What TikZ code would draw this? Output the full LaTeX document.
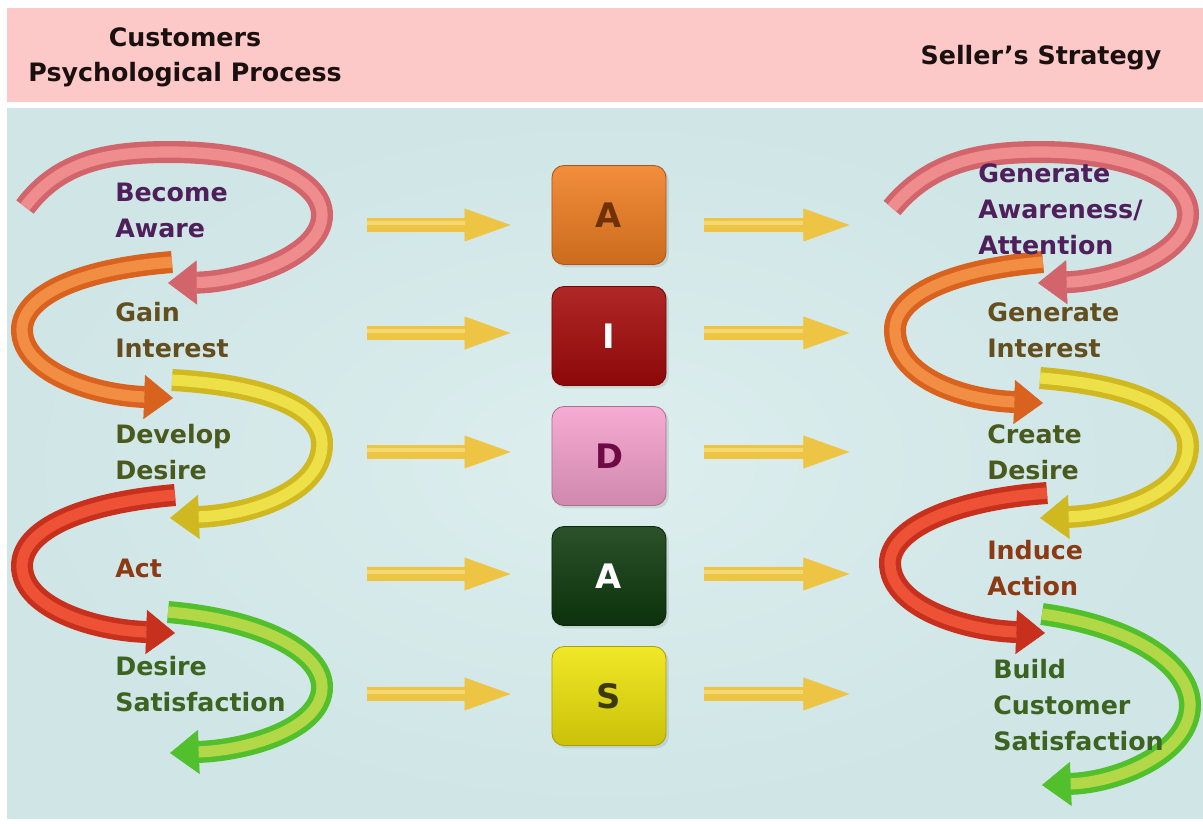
\documentclass[tikz,border=0pt]{standalone}
\usepackage{fontspec}
\setmainfont{DejaVu Sans}
\usetikzlibrary{arrows.meta,positioning,calc,shadows}

\definecolor{headpink}{HTML}{FCC8C8}
\definecolor{panel}{HTML}{CFE5E6}
\definecolor{panellight}{HTML}{DDEEEE}
\definecolor{pinkedge}{HTML}{D2646C}
\definecolor{pinkcore}{HTML}{EE8C8E}
\definecolor{orangeedge}{HTML}{D8621E}
\definecolor{orangecore}{HTML}{F18E44}
\definecolor{yellowedge}{HTML}{CFB820}
\definecolor{yellowcore}{HTML}{EEE048}
\definecolor{rededge}{HTML}{C8301E}
\definecolor{redcore}{HTML}{EE5236}
\definecolor{greenedge}{HTML}{52C02C}
\definecolor{greencore}{HTML}{B2D848}
\definecolor{gold}{HTML}{EEC444}
\definecolor{goldlight}{HTML}{F6D872}
\definecolor{txpurple}{HTML}{4E1F5A}
\definecolor{txbrown}{HTML}{644E1E}
\definecolor{txolive}{HTML}{4A5A1E}
\definecolor{txrust}{HTML}{8C3A14}
\definecolor{txgreen}{HTML}{3C6420}
\definecolor{txhead}{HTML}{1A1010}
\definecolor{boxA}{HTML}{F07E22}
\definecolor{boxI}{HTML}{A50A0A}
\definecolor{boxD}{HTML}{F5A0CC}
\definecolor{boxAc}{HTML}{0E3A0E}
\definecolor{boxS}{HTML}{EEE40A}
\definecolor{letterA}{HTML}{6E3206}
\definecolor{letterD}{HTML}{6E0A46}
\definecolor{letterS}{HTML}{3C3A0A}

% curved band: edge colour underneath, lighter core on top
\newcommand\swirl[3]{%
  \draw[swirl edge, #2] #1;
  \draw[swirl core, #3] #1;
}

\begin{document}
\begin{tikzpicture}[x=0.025cm, y=-0.025cm,
    lbl/.style={anchor=west, align=left, inner sep=0pt,
      font=\fontsize{18}{25.6}\selectfont\bfseries},
    headlbl/.style={align=center, inner sep=0pt, text=txhead,
      font=\fontsize{18}{25}\selectfont\bfseries},
    letterbox/.style={rounded corners=0.3cm, minimum width=2.85cm,
      minimum height=2.475cm, line width=0.6pt,
      font=\fontsize{24}{28}\selectfont\bfseries,
      draw=#1!70!black, top color=#1!88!white, bottom color=#1!85!black,
      drop shadow={opacity=0.2, shadow xshift=2pt, shadow yshift=-2pt}},
    swirl edge/.style={line width=0.55cm,
      -{Triangle[width=1.1cm, length=0.72cm, line width=0.4pt]}},
    swirl core/.style={line width=0.28cm, shorten >=0.72cm},
    flatarrow/.style={line width=0.36cm, gold,
      -{Triangle[width=0.82cm, length=1.15cm, line width=0.4pt]}},
    flatshine/.style={line width=0.12cm, goldlight, shorten >=1.15cm}]

    \useasboundingbox (0,0) rectangle (1203,823);
    \fill[white] (0,0) rectangle (1203,823);

    % Header band and panel
    \fill[headpink] (7,8) rectangle (1203,102);
    \shade[inner color=panellight, outer color=panel] (7,108) rectangle (1203,818);

    \node[headlbl] (cust) at (185,57) {Customers\\Psychological Process};
    \node[headlbl] (seller) at (1041,58) {Seller's Strategy};

    % Left swirl chain
    \swirl{(168,612) .. controls (262,620) and (322,652) .. (322,687) .. controls (322,728) and (250,750) .. (170,753)}{greenedge}{greencore}
    \swirl{(175,495) .. controls (80,503) and (22,530) .. (22,566) .. controls (22,606) and (90,630) .. (175,633)}{rededge}{redcore}
    \swirl{(172,380) .. controls (262,385) and (322,407) .. (322,444) .. controls (322,492) and (250,515) .. (170,518)}{yellowedge}{yellowcore}
    \swirl{(172,262) .. controls (72,270) and (22,298) .. (22,330) .. controls (22,370) and (90,395) .. (173,398)}{orangeedge}{orangecore}
    \swirl{(25,207) .. controls (60,160) and (110,152) .. (170,152) .. controls (262,152) and (322,180) .. (322,215) .. controls (322,257) and (240,282) .. (168,283)}{pinkedge}{pinkcore}

    % Right swirl chain
    \swirl{(1042,614) .. controls (1140,628) and (1190,668) .. (1190,705) .. controls (1190,752) and (1120,782) .. (1042,785)}{greenedge}{greencore}
    \swirl{(1047,493) .. controls (950,500) and (890,530) .. (890,563) .. controls (890,605) and (960,630) .. (1045,633)}{rededge}{redcore}
    \swirl{(1040,378) .. controls (1132,385) and (1188,410) .. (1188,446) .. controls (1188,492) and (1120,515) .. (1040,518)}{yellowedge}{yellowcore}
    \swirl{(1043,262) .. controls (950,270) and (895,296) .. (895,330) .. controls (895,376) and (960,400) .. (1043,403)}{orangeedge}{orangecore}
    \swirl{(892,208) .. controls (930,162) and (980,152) .. (1040,152) .. controls (1132,152) and (1188,180) .. (1188,214) .. controls (1188,256) and (1110,281) .. (1038,283)}{pinkedge}{pinkcore}

    % AIDAS boxes
    \node[letterbox=boxA, text=letterA] (bA) at (609,215) {A};
    \node[letterbox=boxI, text=white] (bI) at (609,336) {I};
    \node[letterbox=boxD, text=letterD] (bD) at (609,456) {D};
    \node[letterbox=boxAc, text=white] (bAc) at (609,576) {A};
    \node[letterbox=boxS, text=letterS] (bS) at (609,696) {S};

    % Yellow arrows either side of the boxes
    \foreach \b/\s in {bA/10, bI/-3, bD/-4, bAc/-2, bS/-2} {
        \draw[flatarrow] ($(\b.west)+(-185,\s)$) -- ($(\b.west)+(-41,\s)$);
        \draw[flatshine] ($(\b.west)+(-185,\s-2)$) -- ($(\b.west)+(-41,\s-2)$);
        \draw[flatarrow] ($(\b.east)+(38,\s)$) -- ($(\b.east)+(183,\s)$);
        \draw[flatshine] ($(\b.east)+(38,\s-2)$) -- ($(\b.east)+(183,\s-2)$);
    }

    % Customer side labels
    \node[lbl, text=txpurple] (aware) at (115,210) {Become\\Aware};
    \node[lbl, text=txbrown] (interest) at (115,330) {Gain\\Interest};
    \node[lbl, text=txolive] (desire) at (115,452) {Develop\\Desire};
    \node[lbl, text=txrust] (act) at (115,568) {Act};
    \node[lbl, text=txgreen] (satisf) at (115,684) {Desire\\Satisfaction};

    % Seller side labels
    \node[lbl, text=txpurple] (genaware) at (978,209) {Generate\\Awareness/\\Attention};
    \node[lbl, text=txbrown] (geninterest) at (987,330) {Generate\\Interest};
    \node[lbl, text=txolive] (credesire) at (987,452) {Create\\Desire};
    \node[lbl, text=txrust] (induce) at (987,568) {Induce\\Action};
    \node[lbl, text=txgreen] (build) at (993,705) {Build\\Customer\\Satisfaction};
\end{tikzpicture}
\end{document}
